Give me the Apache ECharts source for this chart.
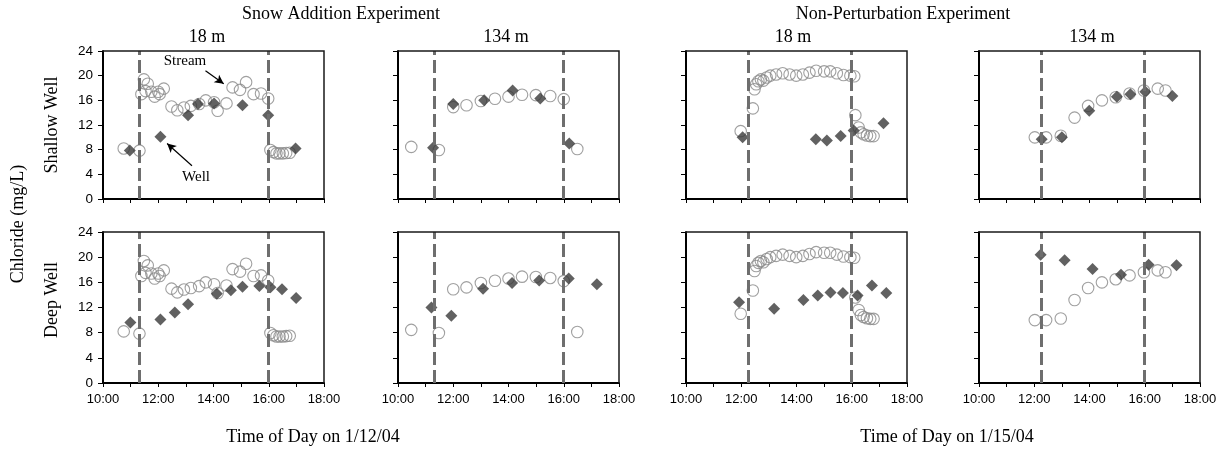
<!DOCTYPE html>
<html><head><meta charset="utf-8">
<script src="https://cdn.jsdelivr.net/npm/echarts@6/dist/echarts.min.js"></script>
<style>html,body{margin:0;padding:0;background:#fff}#c{width:1225px;height:450px}</style>
</head><body><div id="c"></div>
<script>
// ---- tick labels ----
const hourLabels = ['10:00', '12:00', '14:00', '16:00', '18:00'];
const yTickValues = [0, 4, 8, 12, 16, 20, 24];

// ---- event times (decimal hours) for dashed lines ----
const snowEventTimes = [11.33, 15.97];
const nonPertEventTimes = [12.25, 15.98];

// ---- Snow Addition Experiment (1/12/04) : [hour, chloride mg/L] ----
const snow18Stream = [[10.75,8.2],[11.32,7.85],[11.39,17.0],[11.48,19.4],[11.54,17.5],[11.62,18.7],[11.75,17.4],[11.87,16.6],[12.0,17.4],[12.05,17.0],[12.2,17.9],
  [12.48,15.0],[12.69,14.4],[12.93,14.85],[13.18,15.1],[13.48,15.4],[13.72,16.0],[14.02,15.7],[14.15,14.3],[14.47,15.5],
  [14.69,18.1],[14.96,17.7],[15.18,18.95],[15.45,17.0],[15.72,17.1],[15.98,16.3],
  [16.06,7.95],[16.17,7.6],[16.28,7.4],[16.39,7.4],[16.51,7.4],[16.63,7.45],[16.76,7.5]];
const snow18Shallow = [[10.97,7.85],[12.08,10.1],[13.08,13.6],[13.44,15.4],[14.02,15.5],[15.05,15.2],[15.98,13.6],[16.97,8.2]];
const snow18Deep = [[10.99,9.6],[12.08,10.1],[12.6,11.2],[13.08,12.5],[14.12,14.2],[14.63,14.75],[15.05,15.3],[15.66,15.4],[16.06,15.2],[16.48,14.9],[16.99,13.5]];

const snow134Stream = [[10.48,8.45],[11.48,7.95],[12.0,14.9],[12.48,15.2],[13.0,15.9],[13.51,16.25],[14.0,16.6],[14.49,16.9],[14.99,16.85],[15.51,16.7],[16.0,16.2],[16.49,8.1]];
const snow134Shallow = [[11.27,8.3],[12.0,15.4],[13.12,16.0],[14.15,17.6],[15.15,16.3],[16.2,9.0]];
const snow134Deep = [[11.21,12.0],[11.93,10.7],[13.08,15.0],[14.13,15.9],[15.11,16.3],[16.18,16.6],[17.2,15.7]];

// ---- Non-Perturbation Experiment (1/15/04) ----
const np18Stream = [[11.98,11.0],[12.42,14.7],[12.48,17.8],[12.54,18.6],[12.62,19.1],[12.71,19.4],[12.8,19.2],[12.92,19.7],[13.05,20.0],[13.26,20.2],[13.5,20.4],
  [13.75,20.2],[13.99,20.0],[14.23,20.2],[14.47,20.5],[14.71,20.8],[15.0,20.7],[15.22,20.7],[15.46,20.4],[15.7,20.1],[15.95,20.0],[16.09,19.9],
  [16.13,13.6],[16.25,11.6],[16.33,10.8],[16.43,10.5],[16.55,10.3],[16.67,10.2],[16.79,10.2]];
const np18Shallow = [[12.05,10.0],[14.7,9.7],[15.1,9.5],[15.6,10.2],[16.07,11.1],[17.15,12.3]];
const np18Deep = [[11.92,12.85],[13.19,11.8],[14.25,13.2],[14.77,13.9],[15.23,14.4],[15.68,14.3],[16.21,13.9],[16.73,15.5],[17.25,14.3]];

const np134Stream = [[12.02,10.0],[12.43,10.0],[12.96,10.25],[13.46,13.2],[13.95,15.1],[14.45,16.0],[14.95,16.5],[15.45,17.1],[15.97,17.6],[16.47,17.9],[16.75,17.6]];
const np134Shallow = [[12.27,9.7],[13.0,10.0],[13.99,14.3],[14.99,16.6],[15.48,17.0],[16.02,17.4],[17.0,16.7]];
const np134Deep = [[12.23,20.4],[13.1,19.5],[14.11,18.1],[15.14,17.2],[16.14,18.8],[17.15,18.7]];

// annotation arrows in panel 1 (data coords)
const streamArrow = [[13.71,20.8],[14.37,18.7]];
const wellArrow = [[13.22,5.4],[12.32,9.0]];

const panels = [
  {stream: snow18Stream, well: snow18Shallow, ev: snowEventTimes},
  {stream: snow134Stream, well: snow134Shallow, ev: snowEventTimes},
  {stream: np18Stream, well: np18Shallow, ev: nonPertEventTimes},
  {stream: np134Stream, well: np134Shallow, ev: nonPertEventTimes},
  {stream: snow18Stream, well: snow18Deep, ev: snowEventTimes},
  {stream: snow134Stream, well: snow134Deep, ev: snowEventTimes},
  {stream: np18Stream, well: np18Deep, ev: nonPertEventTimes},
  {stream: np134Stream, well: np134Deep, ev: nonPertEventTimes}
];

const colLeft = [103, 398, 686, 979];
const colW = 221;
const rowTop = [51, 232];
const rowH = [148, 151];

const SANS = '"Liberation Sans", Arial, sans-serif';
const SERIF = '"Liberation Serif", "Times New Roman", serif';

const grid = [], xAxis = [], yAxis = [], series = [], frames = [];
panels.forEach((p, i) => {
  const r = Math.floor(i / 4), c = i % 4;
  grid.push({left: colLeft[c], top: rowTop[r], width: colW, height: rowH[r], show: false});
  // top and right frame edges
  frames.push({type: 'polyline', silent: true, z: 50, zlevel: 0,
    shape: {points: [[colLeft[c], rowTop[r]], [colLeft[c] + colW, rowTop[r]], [colLeft[c] + colW, rowTop[r] + rowH[r]]]},
    style: {fill: null, stroke: '#1a1a1a', lineWidth: 1.5}});
  xAxis.push({gridIndex: i, type: 'value', min: 10, max: 18, interval: 1, position: 'bottom', splitLine: {show: false},
    axisLine: {show: true, onZero: false, lineStyle: {color: '#000', width: 2}},
    axisTick: {show: true, inside: false, length: 4, lineStyle: {color: '#000', width: 1}},
    axisLabel: {show: r === 1, margin: 10, fontFamily: SANS, fontSize: 13, color: '#000',
      formatter: v => { const h = Math.round(v); const s = (h < 10 ? '0' : '') + h + ':00'; return hourLabels.includes(s) ? s : ''; }}
  });
  yAxis.push({gridIndex: i, type: 'value', min: 0, max: 24, interval: 4, position: 'left', splitLine: {show: false},
    axisLine: {show: true, onZero: false, lineStyle: {color: '#000', width: 2}},
    axisTick: {show: true, inside: false, length: 5, lineStyle: {color: '#000', width: 1}},
    axisLabel: {show: c === 0, margin: 10, fontFamily: SANS, fontSize: 13.5, color: '#000',
      formatter: v => yTickValues.includes(v) ? String(v) : ''}
  });
  series.push({
    type: 'scatter', xAxisIndex: i, yAxisIndex: i, data: p.stream, z: 3,
    symbol: 'circle', symbolSize: 11.5,
    itemStyle: {color: 'rgba(0,0,0,0)', borderColor: '#888', borderWidth: 1.1},
    markLine: {silent: true, symbol: ['none', 'none'], label: {show: false}, animation: false,
      lineStyle: {color: '#6e6e6e', width: 3, type: [13, 5]},
      data: p.ev.map(t => ({xAxis: t}))}
  });
  const wellSeries = {
    type: 'scatter', xAxisIndex: i, yAxisIndex: i, data: p.well, z: 4,
    symbol: 'diamond', symbolSize: [12, 12],
    itemStyle: {color: '#3a3a3a'}
  };
  if (i === 0) {
    wellSeries.markLine = {silent: true, symbol: ['none', 'arrow'], symbolSize: [7, 9], label: {show: false}, animation: false,
      lineStyle: {color: '#000', width: 1.2, type: 'solid'},
      data: [
        [{coord: streamArrow[0]}, {coord: streamArrow[1]}],
        [{coord: wellArrow[0]}, {coord: wellArrow[1]}]
      ]};
  }
  series.push(wellSeries);
});

const serifText = (text, x, y, size, rot) => ({
  type: 'text', x: x, y: y, rotation: rot || 0, silent: true,
  style: {text: text, fontFamily: SERIF, fontSize: size, fill: '#000', align: 'center', verticalAlign: 'middle'}
});

const graphic = {elements: frames.concat([
  serifText('Snow Addition Experiment', 341, 14, 18),
  serifText('Non-Perturbation Experiment', 903, 14, 18),
  serifText('18 m', 207, 37, 18),
  serifText('134 m', 506, 37, 18),
  serifText('18 m', 793, 37, 18),
  serifText('134 m', 1092, 37, 18),
  serifText('Shallow Well', 52, 125, 18, Math.PI / 2),
  serifText('Deep Well', 52, 300, 18, Math.PI / 2),
  serifText('Chloride (mg/L)', 18, 224, 18, Math.PI / 2),
  serifText('Time of Day on 1/12/04', 313, 437, 18),
  serifText('Time of Day on 1/15/04', 947, 437, 18),
  serifText('Stream', 185, 61, 15),
  serifText('Well', 196, 177, 15)
])};

const chart = echarts.init(document.getElementById('c'), null, {renderer: 'canvas'});
chart.setOption({animation: false, backgroundColor: '#fff', grid, xAxis, yAxis, series, graphic});
</script>
</body></html>
